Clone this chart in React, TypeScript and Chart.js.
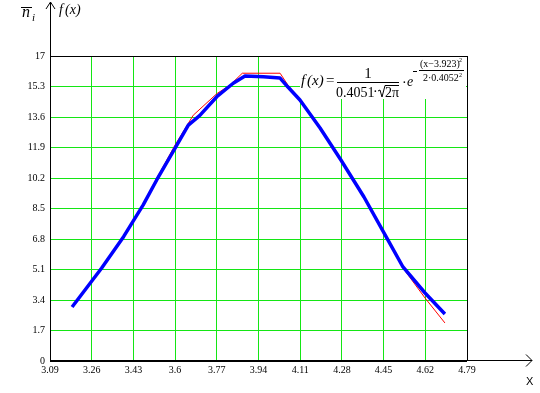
import React, { useEffect, useRef } from "react";
import { Chart, registerables } from "chart.js";

Chart.register(...registerables);

// ---- data ----
const xTicks = [3.09, 3.26, 3.43, 3.6, 3.77, 3.94, 4.11, 4.28, 4.45, 4.62, 4.79];
const xTickLabels = ["3.09", "3.26", "3.43", "3.6", "3.77", "3.94", "4.11", "4.28", "4.45", "4.62", "4.79"];
const yTicks = [0, 1.7, 3.4, 5.1, 6.8, 8.5, 10.2, 11.9, 13.6, 15.3, 17];
const yTickLabels = ["0", "1.7", "3.4", "5.1", "6.8", "8.5", "10.2", "11.9", "13.6", "15.3", "17"];

// theoretical curve f(x) (blue)
const blueX = [3.18, 3.3, 3.39, 3.47, 3.525, 3.6, 3.654, 3.7, 3.77, 3.837, 3.885, 3.96, 4.028, 4.06, 4.109, 4.191, 4.276, 4.37, 4.468, 4.529, 4.619, 4.7];
const blueY = [3.01, 5.17, 6.93, 8.7, 10.09, 11.86, 13.15, 13.68, 14.73, 15.48, 15.89, 15.84, 15.77, 15.27, 14.55, 12.99, 11.2, 9.14, 6.74, 5.24, 3.79, 2.62];

// empirical polygon n_i (red)
const redX = [3.18, 3.3, 3.39, 3.47, 3.525, 3.6, 3.674, 3.77, 3.824, 3.874, 4.028, 4.06, 4.109, 4.191, 4.276, 4.37, 4.468, 4.529, 4.619, 4.7];
const redY = [3.01, 5.18, 6.97, 8.75, 10.18, 12.04, 13.7, 14.9, 15.38, 16.04, 16.04, 15.38, 14.55, 12.99, 11.2, 9.14, 6.69, 5.18, 3.51, 2.12];

const GREEN = "rgb(20,230,20)";
const SERIF = '"Liberation Serif", "Times New Roman", serif';

export default function App() {
  const ref = useRef<HTMLCanvasElement>(null);

  useEffect(() => {
    document.body.style.margin = "0";
    const decor = {
      id: "decor",
      beforeDatasetsDraw(chart: any) {
        const c = chart.ctx;
        c.save();
        c.fillStyle = "#fff";
        c.fillRect(300, 57, 166, 42);
        c.restore();
      },
      afterDraw(chart: any) {
        const c = chart.ctx as CanvasRenderingContext2D;
        const a = chart.chartArea;
        c.save();
        c.strokeStyle = "#000";
        c.fillStyle = "#000";
        c.lineWidth = 1;
        // y axis with arrow
        c.beginPath();
        c.moveTo(a.left + 0.5, a.bottom);
        c.lineTo(a.left + 0.5, 2);
        c.moveTo(a.left - 4, 9);
        c.lineTo(a.left + 0.5, 2);
        c.lineTo(a.left + 5, 9);
        // x axis with arrow
        c.moveTo(a.left, a.bottom - 0.5);
        c.lineTo(532, a.bottom - 0.5);
        c.moveTo(526, a.bottom - 6.5);
        c.lineTo(532, a.bottom - 0.5);
        c.lineTo(526, a.bottom + 5.5);
        c.stroke();

        // axis titles
        c.textBaseline = "alphabetic";
        c.textAlign = "left";
        c.font = `italic 16px ${SERIF}`;
        c.fillText("n", 22, 17);
        c.beginPath();
        c.moveTo(21, 7.5);
        c.lineTo(32, 7.5);
        c.stroke();
        c.font = `italic 11px ${SERIF}`;
        c.fillText("i", 32, 21);
        c.font = `italic 14px ${SERIF}`;
        c.fillText("f", 59, 14);
        c.fillText("(x)", 65, 14);
        c.font = `11px "Liberation Sans", sans-serif`;
        c.fillText("X", 526, 385);

        // formula
        c.font = `italic 15px ${SERIF}`;
        c.fillText("f", 301, 85);
        c.fillText("(x)", 307, 85);
        c.font = `15px ${SERIF}`;
        c.fillText("=", 326, 85);
        c.textAlign = "center";
        c.fillText("1", 368, 78);
        c.beginPath();
        c.moveTo(337, 82.5);
        c.lineTo(399, 82.5);
        c.stroke();
        c.textAlign = "left";
        c.font = `14px ${SERIF}`;
        c.fillText("0.4051", 336, 97);
        c.fillText("\u00b7", 373, 96);
        // radical
        c.beginPath();
        c.moveTo(378, 91);
        c.lineTo(380, 90);
        c.lineTo(382, 97);
        c.lineTo(385, 85.5);
        c.lineTo(399, 85.5);
        c.stroke();
        c.fillText("2\u03c0", 385, 97);
        c.fillText("\u00b7", 402, 87);
        c.font = `italic 14px ${SERIF}`;
        c.fillText("e", 407, 86);
        // exponent
        c.beginPath();
        c.moveTo(413, 71.5);
        c.lineTo(417, 71.5);
        c.moveTo(419, 70.5);
        c.lineTo(464, 70.5);
        c.stroke();
        c.font = `10px ${SERIF}`;
        c.fillText("(x\u22123.923)", 420, 67);
        c.font = `6px ${SERIF}`;
        c.fillText("2", 459, 62);
        c.font = `10px ${SERIF}`;
        c.fillText("2\u00b70.4052", 423, 81);
        c.font = `6px ${SERIF}`;
        c.fillText("2", 459, 77);
        c.restore();
      },
    };

    const chart = new Chart(ref.current as HTMLCanvasElement, {
      type: "line",
      data: {
        datasets: [
          {
            label: "f(x)",
            data: blueX.map((x, i) => ({ x, y: blueY[i] })),
            borderColor: "#0000ff",
            backgroundColor: "#0000ff",
            borderWidth: 3.5,
            pointRadius: 0,
            tension: 0,
            borderJoinStyle: "round",
            order: 0,
          },
          {
            label: "n_i",
            data: redX.map((x, i) => ({ x, y: redY[i] })),
            borderColor: "#ff0000",
            backgroundColor: "#ff0000",
            borderWidth: 1,
            pointRadius: 0,
            tension: 0,
            order: 1,
          },
        ],
      },
      options: {
        responsive: false,
        animation: false,
        layout: { padding: { top: 56, right: 73, left: 0, bottom: 0 } },
        plugins: { legend: { display: false }, tooltip: { enabled: false } },
        scales: {
          x: {
            type: "linear",
            min: 3.09,
            max: 4.79,
            afterBuildTicks: (s: any) => {
              s.ticks = xTicks.map((v) => ({ value: v }));
            },
            afterFit: (s: any) => {
              s.height = 32;
            },
            grid: {
              color: (ctx: any) =>
                ctx.index === 0 || ctx.index === xTicks.length - 1 ? "#000" : GREEN,
              drawTicks: false,
              lineWidth: 1,
            },
            border: { display: false },
            ticks: {
              callback: (_v: any, i: number) => xTickLabels[i],
              padding: 3,
              color: "#000",
              font: { family: SERIF, size: 10 },
              maxRotation: 0,
              autoSkip: false,
            },
          },
          y: {
            type: "linear",
            min: 0,
            max: 17,
            afterBuildTicks: (s: any) => {
              s.ticks = yTicks.map((v) => ({ value: v }));
            },
            afterFit: (s: any) => {
              s.width = 50;
            },
            grid: {
              color: (ctx: any) =>
                ctx.index === 0 || ctx.index === yTicks.length - 1 ? "#000" : GREEN,
              drawTicks: false,
              lineWidth: 1,
            },
            border: { display: false },
            ticks: {
              callback: (_v: any, i: number) => yTickLabels[i],
              padding: 5,
              color: "#000",
              font: { family: SERIF, size: 10 },
              autoSkip: false,
            },
          },
        },
      },
      plugins: [decor],
    } as any);
    return () => chart.destroy();
  }, []);

  return (
    <div style={{ width: 540, height: 393 }}>
      <canvas ref={ref} width={540} height={393} />
    </div>
  );
}
